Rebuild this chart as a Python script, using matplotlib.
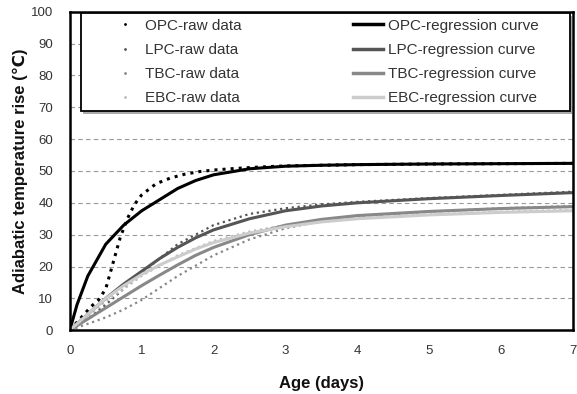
import matplotlib
matplotlib.use("Agg")
import matplotlib.pyplot as plt
from matplotlib.lines import Line2D
from matplotlib.patches import Rectangle

plt.rcParams['font.family'] = ['Liberation Sans', 'DejaVu Sans']

# raw measurements (age in days, temperature rise in C)
opc_raw_t = [0, 0.1, 0.2, 0.3, 0.4, 0.5, 0.6, 0.7, 0.8, 0.9, 1.0, 1.2, 1.4, 1.6, 1.8, 2.0, 2.3, 2.6, 3.0, 3.5, 4.0, 5.0, 6.0, 7.0]
opc_raw = [0, 2.5, 5, 7.5, 9.5, 13, 21, 29, 35, 39.5, 42.5, 46, 47.8, 49, 49.8, 50.3, 50.8, 51.2, 51.6, 51.8, 52, 52.2, 52.3, 52.4]

lpc_raw_t = [0, 0.25, 0.5, 0.75, 1.0, 1.5, 2.0, 2.5, 3.0, 3.5, 4.0, 5.0, 6.0, 7.0]
lpc_raw = [0, 3.5, 8, 13, 18, 27, 33, 36.5, 38.3, 39.5, 40.3, 41.5, 42.5, 43.5]

tbc_raw_t = [0, 0.25, 0.5, 0.75, 1.0, 1.5, 2.0, 2.5, 3.0, 3.5, 4.0, 5.0, 6.0, 7.0]
tbc_raw = [0, 2, 4, 6.5, 9.5, 17, 23.5, 28.5, 32, 34.3, 35.8, 37.2, 38.3, 39]

ebc_raw_t = [0, 0.25, 0.5, 0.75, 1.0, 1.5, 2.0, 2.5, 3.0, 3.5, 4.0, 5.0, 6.0, 7.0]
ebc_raw = [0, 4.5, 9, 13, 17, 23.5, 28, 31, 33, 34.3, 35.2, 36.4, 37.2, 37.8]

# regression curves
fit_t = [0, 0.1, 0.25, 0.5, 0.75, 1.0, 1.25, 1.5, 1.75, 2.0, 2.5, 3.0, 3.5, 4.0, 5.0, 6.0, 7.0]
opc_fit = [0, 8, 17, 27, 33, 37.5, 41, 44.5, 47, 48.8, 50.7, 51.5, 51.8, 52, 52.2, 52.3, 52.4]
lpc_fit = [0, 2, 5, 10, 14.5, 18.5, 22.5, 26, 29, 31.5, 35, 37.5, 39, 40, 41.3, 42.3, 43.2]
tbc_fit = [0, 1.4, 3.5, 7, 10.5, 14, 17.3, 20.5, 23.5, 26, 30, 33, 34.8, 36, 37.3, 38.2, 38.8]
ebc_fit = [0, 2, 5, 10, 14, 17.5, 20.5, 23, 25.5, 27.5, 30.5, 32.5, 34, 35, 36.2, 37, 37.5]

names = ['OPC', 'LPC', 'TBC', 'EBC']
raw_colors = ['black', '#555555', '#888888', '#bbbbbb']
fit_colors = ['black', '#555555', '#888888', '#cccccc']

fig = plt.figure(figsize=(5.77, 3.94), dpi=100)
ax = fig.add_axes([0.121, 0.162, 0.872, 0.808])

raws = [(opc_raw_t, opc_raw), (lpc_raw_t, lpc_raw), (tbc_raw_t, tbc_raw), (ebc_raw_t, ebc_raw)]
fits = [opc_fit, lpc_fit, tbc_fit, ebc_fit]
for (t, v), c, w in zip(raws, raw_colors, [2.2, 1.6, 1.6, 1.6]):
    ax.plot(t, v, ':', color=c, lw=w)
for v, c in zip(fits, fit_colors):
    ax.plot(fit_t, v, color=c, lw=2.2)

ax.set_xlim(0, 7)
ax.set_ylim(0, 100)
ax.set_xticks(range(0, 8))
ax.set_yticks(range(0, 101, 10))
ax.grid(axis='y', linestyle=(0, (4, 3)), color='#999999', lw=0.8)
ax.tick_params(axis='both', labelsize=9.5, colors='#333333', length=0)
ax.tick_params(axis='x', pad=11)
ax.tick_params(axis='y', pad=12)
for s in ax.spines.values():
    s.set_linewidth(1.8)

ax.set_xlabel('Age (days)', fontsize=12, fontweight='bold', color='#111111', labelpad=13)
ax.set_ylabel('Adiabatic temperature rise (℃)', fontsize=12, fontweight='bold', color='#111111', labelpad=2)

# legend box with shadow
ax.add_patch(Rectangle((0.0269, 0.680), 0.972, 0.306, transform=ax.transAxes,
                       facecolor='#aaaaaa', edgecolor='none', zorder=4, clip_on=False))
ax.add_patch(Rectangle((0.0219, 0.689), 0.972, 0.306, transform=ax.transAxes,
                       facecolor='white', edgecolor='black', lw=1.3, zorder=5, clip_on=False))

handles = []
labels = []
for n, rc in zip(names, raw_colors):
    handles.append(Line2D([], [], marker='.', ls='none', color=rc, markersize=2))
    labels.append(n + '-raw data')
for n, fc in zip(names, fit_colors):
    handles.append(Line2D([], [], color=fc, lw=2.5))
    labels.append(n + '-regression curve')

leg = ax.legend(handles, labels, ncol=2, loc='upper left', bbox_to_anchor=(0.0795, 0.978),
                fontsize=11, frameon=False, borderpad=0, borderaxespad=0,
                columnspacing=7.3, handlelength=2.0, handletextpad=0.28,
                labelspacing=0.66)
leg.set_zorder(6)
for txt in leg.get_texts():
    txt.set_color('#333333')

fig.savefig('out.png', dpi=100)
